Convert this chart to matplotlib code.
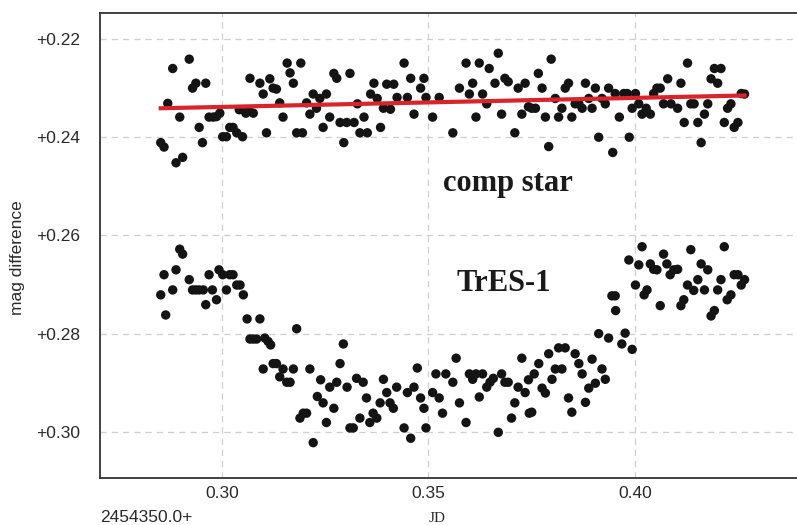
import numpy as np
import matplotlib
matplotlib.use("Agg")
import matplotlib.pyplot as plt
from matplotlib.ticker import FuncFormatter

plt.rcParams["font.family"] = ["Liberation Sans", "DejaVu Sans"]

# 比较星 (comp star)
comp_jd = [0.2852, 0.2860, 0.2869, 0.2881, 0.2889, 0.2898, 0.2905, 0.2921, 0.2929, 0.2937,
           0.2945, 0.2953, 0.2961, 0.2969, 0.2979, 0.2987, 0.2995, 0.3002, 0.3011, 0.3019,
           0.3027, 0.3036, 0.3042, 0.3050, 0.3058, 0.3064, 0.3068, 0.3076, 0.3092, 0.3100,
           0.3108, 0.3116, 0.3124, 0.3132, 0.3140, 0.3148, 0.3158, 0.3165, 0.3173, 0.3181,
           0.3191, 0.3195, 0.3205, 0.3213, 0.3221, 0.3229, 0.3237, 0.3245, 0.3253, 0.3261,
           0.3271, 0.3278, 0.3286, 0.3295, 0.3302, 0.3310, 0.3320, 0.3328, 0.3334, 0.3344,
           0.3352, 0.3360, 0.3368, 0.3376, 0.3384, 0.3391, 0.3399, 0.3408, 0.3416, 0.3424,
           0.3441, 0.3449, 0.3457, 0.3465, 0.3481, 0.3489, 0.3494, 0.3510, 0.3526, 0.3559,
           0.3575, 0.3591, 0.3599, 0.3607, 0.3615, 0.3623, 0.3631, 0.3641, 0.3647, 0.3661,
           0.3669, 0.3677, 0.3685, 0.3693, 0.3709, 0.3717, 0.3726, 0.3734, 0.3742, 0.3750,
           0.3759, 0.3766, 0.3775, 0.3783, 0.3791, 0.3797, 0.3807, 0.3815, 0.3823, 0.3831,
           0.3839, 0.3847, 0.3855, 0.3864, 0.3872, 0.3880, 0.3888, 0.3896, 0.3904, 0.3912,
           0.3920, 0.3928, 0.3936, 0.3946, 0.3952, 0.3962, 0.3973, 0.3981, 0.3986, 0.3993,
           0.4001, 0.4009, 0.4017, 0.4027, 0.4037, 0.4045, 0.4053, 0.4061, 0.4069, 0.4079,
           0.4087, 0.4103, 0.4111, 0.4119, 0.4127, 0.4135, 0.4143, 0.4152, 0.4160, 0.4168,
           0.4176, 0.4184, 0.4192, 0.4200, 0.4208, 0.4216, 0.4224, 0.4232, 0.4240, 0.4249,
           0.4257, 0.4265]
comp_mag = [0.2411, 0.2420, 0.2331, 0.2260, 0.2452, 0.2359, 0.2441, 0.2241, 0.2300, 0.2290,
            0.2380, 0.2411, 0.2290, 0.2359, 0.2359, 0.2358, 0.2351, 0.2399, 0.2399, 0.2380,
            0.2380, 0.2391, 0.2344, 0.2399, 0.2351, 0.2344, 0.2280, 0.2351, 0.2290, 0.2312,
            0.2391, 0.2281, 0.2300, 0.2302, 0.2330, 0.2359, 0.2249, 0.2269, 0.2290, 0.2391,
            0.2249, 0.2391, 0.2330, 0.2353, 0.2312, 0.2341, 0.2321, 0.2380, 0.2312, 0.2359,
            0.2270, 0.2280, 0.2370, 0.2411, 0.2370, 0.2270, 0.2370, 0.2332, 0.2391, 0.2359,
            0.2391, 0.2312, 0.2290, 0.2321, 0.2380, 0.2341, 0.2292, 0.2343, 0.2292, 0.2319,
            0.2249, 0.2319, 0.2280, 0.2353, 0.2300, 0.2280, 0.2319, 0.2359, 0.2319, 0.2391,
            0.2300, 0.2249, 0.2312, 0.2290, 0.2359, 0.2249, 0.2312, 0.2332, 0.2260, 0.2290,
            0.2229, 0.2353, 0.2280, 0.2287, 0.2391, 0.2300, 0.2353, 0.2290, 0.2338, 0.2341,
            0.2341, 0.2270, 0.2300, 0.2359, 0.2419, 0.2241, 0.2321, 0.2359, 0.2341, 0.2300,
            0.2290, 0.2359, 0.2332, 0.2332, 0.2341, 0.2290, 0.2321, 0.2341, 0.2300, 0.2400,
            0.2321, 0.2332, 0.2300, 0.2431, 0.2311, 0.2359, 0.2311, 0.2311, 0.2400, 0.2341,
            0.2311, 0.2332, 0.2353, 0.2341, 0.2353, 0.2311, 0.2300, 0.2300, 0.2332, 0.2281,
            0.2332, 0.2341, 0.2290, 0.2370, 0.2249, 0.2332, 0.2332, 0.2370, 0.2411, 0.2353,
            0.2332, 0.2281, 0.2260, 0.2290, 0.2260, 0.2370, 0.2341, 0.2332, 0.2380, 0.2370,
            0.2311, 0.2312]

# 比较星的线性拟合 (端点)
trend_jd = [0.2852, 0.4265]
trend_mag = [0.2341, 0.2315]

# TrES-1 凌星光变
tres_jd = [0.2852, 0.2860, 0.2864, 0.2881, 0.2889, 0.2898, 0.2905, 0.2921, 0.2929, 0.2937,
           0.2945, 0.2955, 0.2961, 0.2969, 0.2977, 0.2987, 0.2993, 0.3002, 0.3011, 0.3019,
           0.3027, 0.3036, 0.3044, 0.3052, 0.3061, 0.3068, 0.3076, 0.3084, 0.3092, 0.3100,
           0.3104, 0.3112, 0.3118, 0.3124, 0.3132, 0.3140, 0.3148, 0.3157, 0.3165, 0.3173,
           0.3181, 0.3189, 0.3197, 0.3205, 0.3213, 0.3221, 0.3231, 0.3239, 0.3245, 0.3253,
           0.3261, 0.3271, 0.3278, 0.3286, 0.3294, 0.3303, 0.3310, 0.3318, 0.3326, 0.3334,
           0.3342, 0.3350, 0.3358, 0.3366, 0.3375, 0.3383, 0.3391, 0.3399, 0.3407, 0.3415,
           0.3423, 0.3441, 0.3449, 0.3457, 0.3465, 0.3473, 0.3481, 0.3489, 0.3494, 0.3510,
           0.3518, 0.3526, 0.3534, 0.3542, 0.3559, 0.3567, 0.3575, 0.3591, 0.3599, 0.3607,
           0.3615, 0.3623, 0.3631, 0.3641, 0.3649, 0.3657, 0.3669, 0.3677, 0.3685, 0.3693,
           0.3701, 0.3709, 0.3717, 0.3726, 0.3734, 0.3742, 0.3744, 0.3750, 0.3756, 0.3767,
           0.3775, 0.3783, 0.3791, 0.3799, 0.3807, 0.3815, 0.3823, 0.3831, 0.3839, 0.3847,
           0.3855, 0.3864, 0.3872, 0.3880, 0.3888, 0.3896, 0.3904, 0.3912, 0.3920, 0.3928,
           0.3936, 0.3944, 0.3952, 0.3953, 0.3968, 0.3976, 0.3985, 0.3993, 0.4001, 0.4009,
           0.4017, 0.4022, 0.4029, 0.4037, 0.4045, 0.4053, 0.4061, 0.4069, 0.4077, 0.4085,
           0.4094, 0.4103, 0.4111, 0.4118, 0.4127, 0.4135, 0.4142, 0.4152, 0.4160, 0.4168,
           0.4176, 0.4184, 0.4192, 0.4200, 0.4208, 0.4216, 0.4223, 0.4232, 0.4240, 0.4249,
           0.4257, 0.4265]
tres_mag = [0.2721, 0.2680, 0.2762, 0.2711, 0.2670, 0.2628, 0.2638, 0.2690, 0.2711, 0.2711,
            0.2711, 0.2711, 0.2741, 0.2680, 0.2711, 0.2731, 0.2670, 0.2680, 0.2711, 0.2680,
            0.2680, 0.2701, 0.2701, 0.2721, 0.2770, 0.2811, 0.2811, 0.2811, 0.2770, 0.2872,
            0.2809, 0.2816, 0.2823, 0.2861, 0.2861, 0.2888, 0.2872, 0.2899, 0.2899, 0.2872,
            0.2790, 0.2972, 0.2962, 0.2962, 0.2872, 0.3022, 0.2928, 0.2894, 0.2941, 0.2981,
            0.2909, 0.2952, 0.2899, 0.2861, 0.2821, 0.2909, 0.2992, 0.2992, 0.2891, 0.2972,
            0.2899, 0.2931, 0.2981, 0.2962, 0.2972, 0.2941, 0.2893, 0.2920, 0.2941, 0.2952,
            0.2909, 0.2992, 0.2920, 0.3013, 0.2909, 0.2870, 0.2931, 0.2952, 0.2992, 0.2920,
            0.2882, 0.2931, 0.2962, 0.2882, 0.2899, 0.2850, 0.2941, 0.2981, 0.2882, 0.2893,
            0.2882, 0.2929, 0.2882, 0.2909, 0.2899, 0.2891, 0.3001, 0.2882, 0.2899, 0.2899,
            0.2972, 0.2941, 0.2909, 0.2850, 0.2920, 0.2894, 0.2962, 0.2960, 0.2882, 0.2861,
            0.2911, 0.2921, 0.2841, 0.2893, 0.2872, 0.2829, 0.2872, 0.2829, 0.2931, 0.2960,
            0.2841, 0.2861, 0.2882, 0.2940, 0.2911, 0.2852, 0.2901, 0.2800, 0.2872, 0.2893,
            0.2809, 0.2723, 0.2723, 0.2753, 0.2821, 0.2799, 0.2650, 0.2832, 0.2701, 0.2660,
            0.2623, 0.2721, 0.2711, 0.2658, 0.2669, 0.2670, 0.2743, 0.2638, 0.2658, 0.2680,
            0.2670, 0.2669, 0.2743, 0.2731, 0.2701, 0.2629, 0.2712, 0.2690, 0.2658, 0.2711,
            0.2670, 0.2764, 0.2753, 0.2711, 0.2690, 0.2623, 0.2731, 0.2721, 0.2680, 0.2680,
            0.2701, 0.2690]

x_ticks = [0.30, 0.35, 0.40]
y_ticks = [0.22, 0.24, 0.26, 0.28, 0.30]

fig = plt.figure(figsize=(7.97, 5.25), dpi=100)
# 坐标区右侧超出图像边缘
ax = fig.add_axes([100 / 797, 47 / 525, 697 / 797, 465 / 525])

ax.scatter(comp_jd, comp_mag, s=46, color="#141414", edgecolors="none", zorder=3)
ax.scatter(tres_jd, tres_mag, s=46, color="#141414", edgecolors="none", zorder=3)
ax.plot(trend_jd, trend_mag, color="#d8242a", linewidth=3.0, zorder=4)

ax.set_xlim(0.2705, 0.4392)
ax.set_ylim(0.3094, 0.2147)  # 星等轴反向

ax.set_xticks(x_ticks)
ax.set_yticks(y_ticks)
ax.xaxis.set_major_formatter(FuncFormatter(lambda v, p: f"{v:.2f}"))
ax.yaxis.set_major_formatter(FuncFormatter(lambda v, p: f"+{v:.2f}"))
ax.tick_params(axis="both", length=0, labelsize=12.5, colors="#2a2a2a")
ax.tick_params(axis="y", pad=14)
ax.tick_params(axis="x", pad=6)

ax.grid(True, color="#cfcfcf", linestyle=(0, (5, 4)), linewidth=0.9)
ax.set_axisbelow(True)

for side in ["left", "top", "bottom"]:
    ax.spines[side].set_color("#333333")
    ax.spines[side].set_linewidth(1.3)
ax.spines["right"].set_visible(False)

ax.set_ylabel("mag difference", fontsize=12.5, color="#2a2a2a")
ax.yaxis.set_label_coords(-0.107, 0.473)

ax.text(0.3535, 0.2509, "comp star", fontsize=22, fontweight="bold",
        family=["Liberation Serif", "DejaVu Serif"], color="#1a1a1a", va="baseline")
ax.text(0.3567, 0.2713, "TrES-1", fontsize=22, fontweight="bold",
        family=["Liberation Serif", "DejaVu Serif"], color="#1a1a1a", va="baseline")

fig.text(100 / 797, 1 - 517 / 525, "2454350.0+", fontsize=12.5, color="#2a2a2a",
         ha="left", va="center")
fig.text(437 / 797, 1 - 518 / 525, "JD", fontsize=11,
         family=["Liberation Serif", "DejaVu Serif"], color="#2a2a2a",
         ha="center", va="center")

fig.savefig("out.png", dpi=100)
